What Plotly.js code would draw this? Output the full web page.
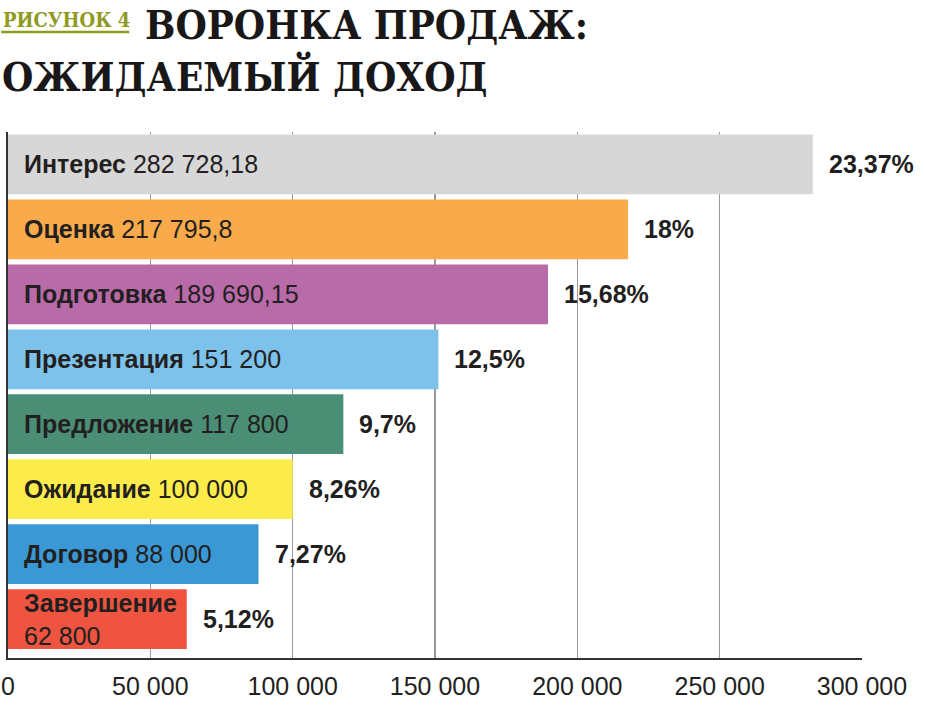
<!DOCTYPE html>
<html><head><meta charset="utf-8">
<script src="https://cdn.plot.ly/plotly-3.0.1.min.js"></script>
<style>html,body{margin:0;padding:0;background:#fff}#chart{width:925px;height:707px}</style>
</head><body><div id="chart"></div>
<script>
const stages = ["Интерес","Оценка","Подготовка","Презентация","Предложение","Ожидание","Договор","Завершение"];
const values = [282728.18, 217795.8, 189690.15, 151200, 117800, 100000, 88000, 62800];
const valueLabels = ["282 728,18","217 795,8","189 690,15","151 200","117 800","100 000","88 000","62 800"];
const shares = ["23,37%","18%","15,68%","12,5%","9,7%","8,26%","7,27%","5,12%"];
const colors = ["#d7d7d7","#f9ab4c","#b96aa9","#7cc2eb","#4b8e76","#fcec4b","#3a98d5","#ef5441"];
const tickVals = [0,50000,100000,150000,200000,250000,300000];
const tickText = ["0","50 000","100 000","150 000","200 000","250 000","300 000"];

const txtColor = "#231f20";
const annotations = [];
stages.forEach((s,i)=>{
  const sep = (s === "Завершение") ? "<br>" : " ";
  annotations.push({x:0, y:s, xref:"x", yref:"y", xanchor:"left", yanchor:"middle", xshift:14, align:"left",
    text:"<b>"+s+"</b>"+sep+valueLabels[i], showarrow:false,
    font:{family:"Liberation Sans, Arial, sans-serif", size:25, color:txtColor}});
  annotations.push({x:values[i], y:s, xref:"x", yref:"y", xanchor:"left", yanchor:"middle", xshift:14,
    text:"<b>"+shares[i]+"</b>", showarrow:false,
    font:{family:"Liberation Sans, Arial, sans-serif", size:25, color:txtColor}});
});
// title pieces
const titleFont = "DejaVu Serif Condensed, DejaVu Serif, serif";
annotations.push({xref:"paper", yref:"paper", x:-0.008, y:1, xanchor:"left", yanchor:"bottom", yshift:98, showarrow:false,
  text:"<b>РИСУНОК 4</b>", font:{family:titleFont, size:20, color:"#8f9a1f"}});
annotations.push({xref:"paper", yref:"paper", x:0.158, y:1, xanchor:"left", yanchor:"bottom", yshift:82, showarrow:false,
  text:"<b>ВОРОНКА ПРОДАЖ:</b>", font:{family:titleFont, size:40, color:"#1a1718"}});
annotations.push({xref:"paper", yref:"paper", x:-0.009, y:1, xanchor:"left", yanchor:"bottom", yshift:30, showarrow:false,
  text:"<b>ОЖИДАЕМЫЙ ДОХОД</b>", font:{family:titleFont, size:40, color:"#1a1718"}});

const trace = {type:"bar", orientation:"h", y:stages, x:values, marker:{color:colors, line:{width:0}},
  hoverinfo:"none", width:0.92};

const layout = {
  width:925, height:707,
  margin:{l:8, r:63, t:132, b:49, pad:0},
  paper_bgcolor:"#fff", plot_bgcolor:"#fff",
  showlegend:false,
  xaxis:{range:[0,300000], tickvals:tickVals, ticktext:tickText, showgrid:true, gridcolor:"#9a9a9a", gridwidth:1.5,
    zeroline:false, showline:true, linecolor:"#333", linewidth:2, ticks:"", ticklabelstandoff:5,
    ticklabeloverflow:"allow",
    tickfont:{family:"Liberation Sans, Arial, sans-serif", size:25, color:txtColor}, fixedrange:true},
  yaxis:{type:"category", categoryorder:"array", categoryarray:stages, range:[7.6,-0.5], showticklabels:false,
    showgrid:false, zeroline:false, showline:true, linecolor:"#333", linewidth:2, ticks:"", fixedrange:true},
  annotations:annotations,
  shapes:[{type:"line", xref:"paper", yref:"paper", x0:-0.008, x1:0.142, y0:1.19, y1:1.19,
    line:{color:"#8f9a1f", width:2.5}}]
};
Plotly.newPlot("chart",[trace],layout,{staticPlot:true, displayModeBar:false});
</script></body></html>
